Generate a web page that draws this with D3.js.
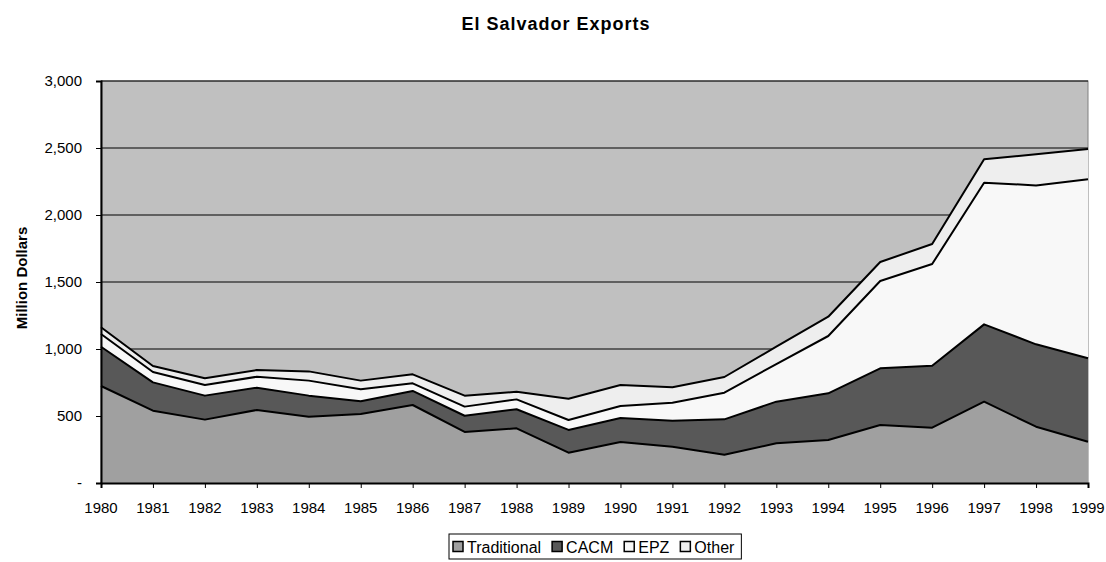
<!DOCTYPE html>
<html>
  <head>
    <script src="https://d3js.org/d3.v7.min.js"></script>
    <title>El Salvador Exports</title>
    <style>
      body { margin: 0; background: #fff; }
    </style>
  </head>
  <body>
  <svg width="1106" height="562" font-family="Liberation Sans, Arial, sans-serif"></svg>
  <script>
    var years = [1980, 1981, 1982, 1983, 1984, 1985, 1986, 1987, 1988, 1989,
                 1990, 1991, 1992, 1993, 1994, 1995, 1996, 1997, 1998, 1999];
    var traditional = [724, 540, 473, 545, 495, 515, 582, 381, 408, 226,
                       306, 271, 211, 296, 321, 433, 413, 607, 420, 308];
    var cacm = [293, 211, 179, 166, 157, 95, 105, 121, 142, 170,
                179, 194, 264, 311, 348, 423, 462, 577, 615, 623];
    var epz = [95, 77, 79, 82, 112, 89, 57, 68, 74, 74,
               90, 134, 199, 281, 428, 651, 759, 1057, 1186, 1335];
    var other = [50, 45, 50, 50, 69, 65, 67, 82, 57, 159,
                 156, 115, 117, 129, 144, 142, 150, 175, 232, 227];
    var seriesNames = ['Traditional', 'CACM', 'EPZ', 'Other'];
    var seriesColors = ['#a0a0a0', '#585858', '#f8f8f8', '#eeeeee'];
    var yTicks = [0, 500, 1000, 1500, 2000, 2500, 3000];

    var svg = d3.select('svg');
    var margin = {left: 101, right: 18, top: 81, bottom: 79};
    var w = 1106, h = 562;
    var innerWidth = w - margin.left - margin.right;
    var innerHeight = h - margin.top - margin.bottom;

    var rows = years.map((y, i) => ({
      year: y,
      Traditional: traditional[i],
      CACM: cacm[i],
      EPZ: epz[i],
      Other: other[i]
    }));

    var xScale = d3.scaleLinear()
      .domain([d3.min(years), d3.max(years)])
      .range([0, innerWidth]);

    var yScale = d3.scaleLinear()
      .domain([0, 3000])
      .range([innerHeight, 0]);

    var layers = d3.stack().keys(seriesNames)(rows);

    var g = svg.append('g')
      .attr('transform', `translate(${margin.left},${margin.top})`);

    // plot background
    g.append('rect')
      .attr('width', innerWidth)
      .attr('height', innerHeight)
      .attr('fill', '#c0c0c0')
      .attr('stroke', '#808080')
      .attr('stroke-width', 1);

    // gridlines
    g.selectAll('.grid')
      .data(yTicks.filter(d => d > 0))
      .enter().append('line')
      .attr('class', 'grid')
      .attr('x1', 0)
      .attr('x2', innerWidth)
      .attr('y1', d => yScale(d))
      .attr('y2', d => yScale(d))
      .attr('stroke', '#000')
      .attr('stroke-width', 1);

    var area = d3.area()
      .x(d => xScale(d.data.year))
      .y0(d => yScale(d[0]))
      .y1(d => yScale(d[1]));

    var line = d3.line()
      .x(d => xScale(d.data.year))
      .y(d => yScale(d[1]));

    g.selectAll('.layer')
      .data(layers)
      .enter().append('path')
      .attr('class', 'layer')
      .attr('d', area)
      .attr('fill', (d, i) => seriesColors[i]);

    g.selectAll('.edge')
      .data(layers)
      .enter().append('path')
      .attr('class', 'edge')
      .attr('d', line)
      .attr('fill', 'none')
      .attr('stroke', '#000')
      .attr('stroke-width', 2)
      .attr('stroke-linejoin', 'round');

    // axes: lines and ticks from d3 axes, labels placed with the scales
    var gy = g.append('g').call(d3.axisLeft(yScale).tickValues(yTicks).tickSize(5).tickFormat(''));
    gy.select('.domain').attr('stroke', '#000').attr('stroke-width', 2);

    var gx = g.append('g')
      .attr('transform', `translate(0,${innerHeight})`)
      .call(d3.axisBottom(xScale).tickValues(years).tickSize(5).tickFormat(''));
    gx.select('.domain').attr('stroke', '#000').attr('stroke-width', 2);

    var yFmt = d3.format(',');
    svg.append('g').selectAll('text')
      .data(yTicks)
      .enter().append('text')
      .attr('x', margin.left - 19)
      .attr('y', d => margin.top + yScale(d) + 5)
      .attr('text-anchor', 'end')
      .attr('font-size', 15)
      .text(d => d === 0 ? '-' : yFmt(d));

    svg.append('g').selectAll('text')
      .data(years)
      .enter().append('text')
      .attr('x', d => margin.left + xScale(d))
      .attr('y', margin.top + innerHeight + 30)
      .attr('text-anchor', 'middle')
      .attr('font-size', 15)
      .text(d => d);

    // title
    svg.append('text')
      .attr('x', 556)
      .attr('y', 30)
      .attr('text-anchor', 'middle')
      .attr('font-size', 18)
      .attr('font-weight', 'bold')
      .attr('letter-spacing', 1)
      .text('El Salvador Exports');

    svg.append('text')
      .attr('transform', 'translate(27,278) rotate(-90)')
      .attr('text-anchor', 'middle')
      .attr('font-size', 15)
      .attr('font-weight', 'bold')
      .text('Million Dollars');

    // legend
    var legend = svg.append('g').attr('transform', 'translate(449,534)');
    var legendBox = legend.append('rect')
      .attr('x', 0).attr('y', 0)
      .attr('height', 25)
      .attr('fill', '#fff')
      .attr('stroke', '#000')
      .attr('stroke-width', 1);

    var lx = 4;
    seriesNames.forEach((name, i) => {
      legend.append('rect')
        .attr('x', lx).attr('y', 7.5)
        .attr('width', 10).attr('height', 10)
        .attr('fill', seriesColors[i])
        .attr('stroke', '#000')
        .attr('stroke-width', 1.5);
      var t = legend.append('text')
        .attr('x', lx + 14)
        .attr('y', 18.5)
        .attr('font-size', 16)
        .text(name);
      lx += 14 + t.node().getComputedTextLength() + 11;
    });
    legendBox.attr('width', lx - 4);
  </script>
  </body>
</html>
